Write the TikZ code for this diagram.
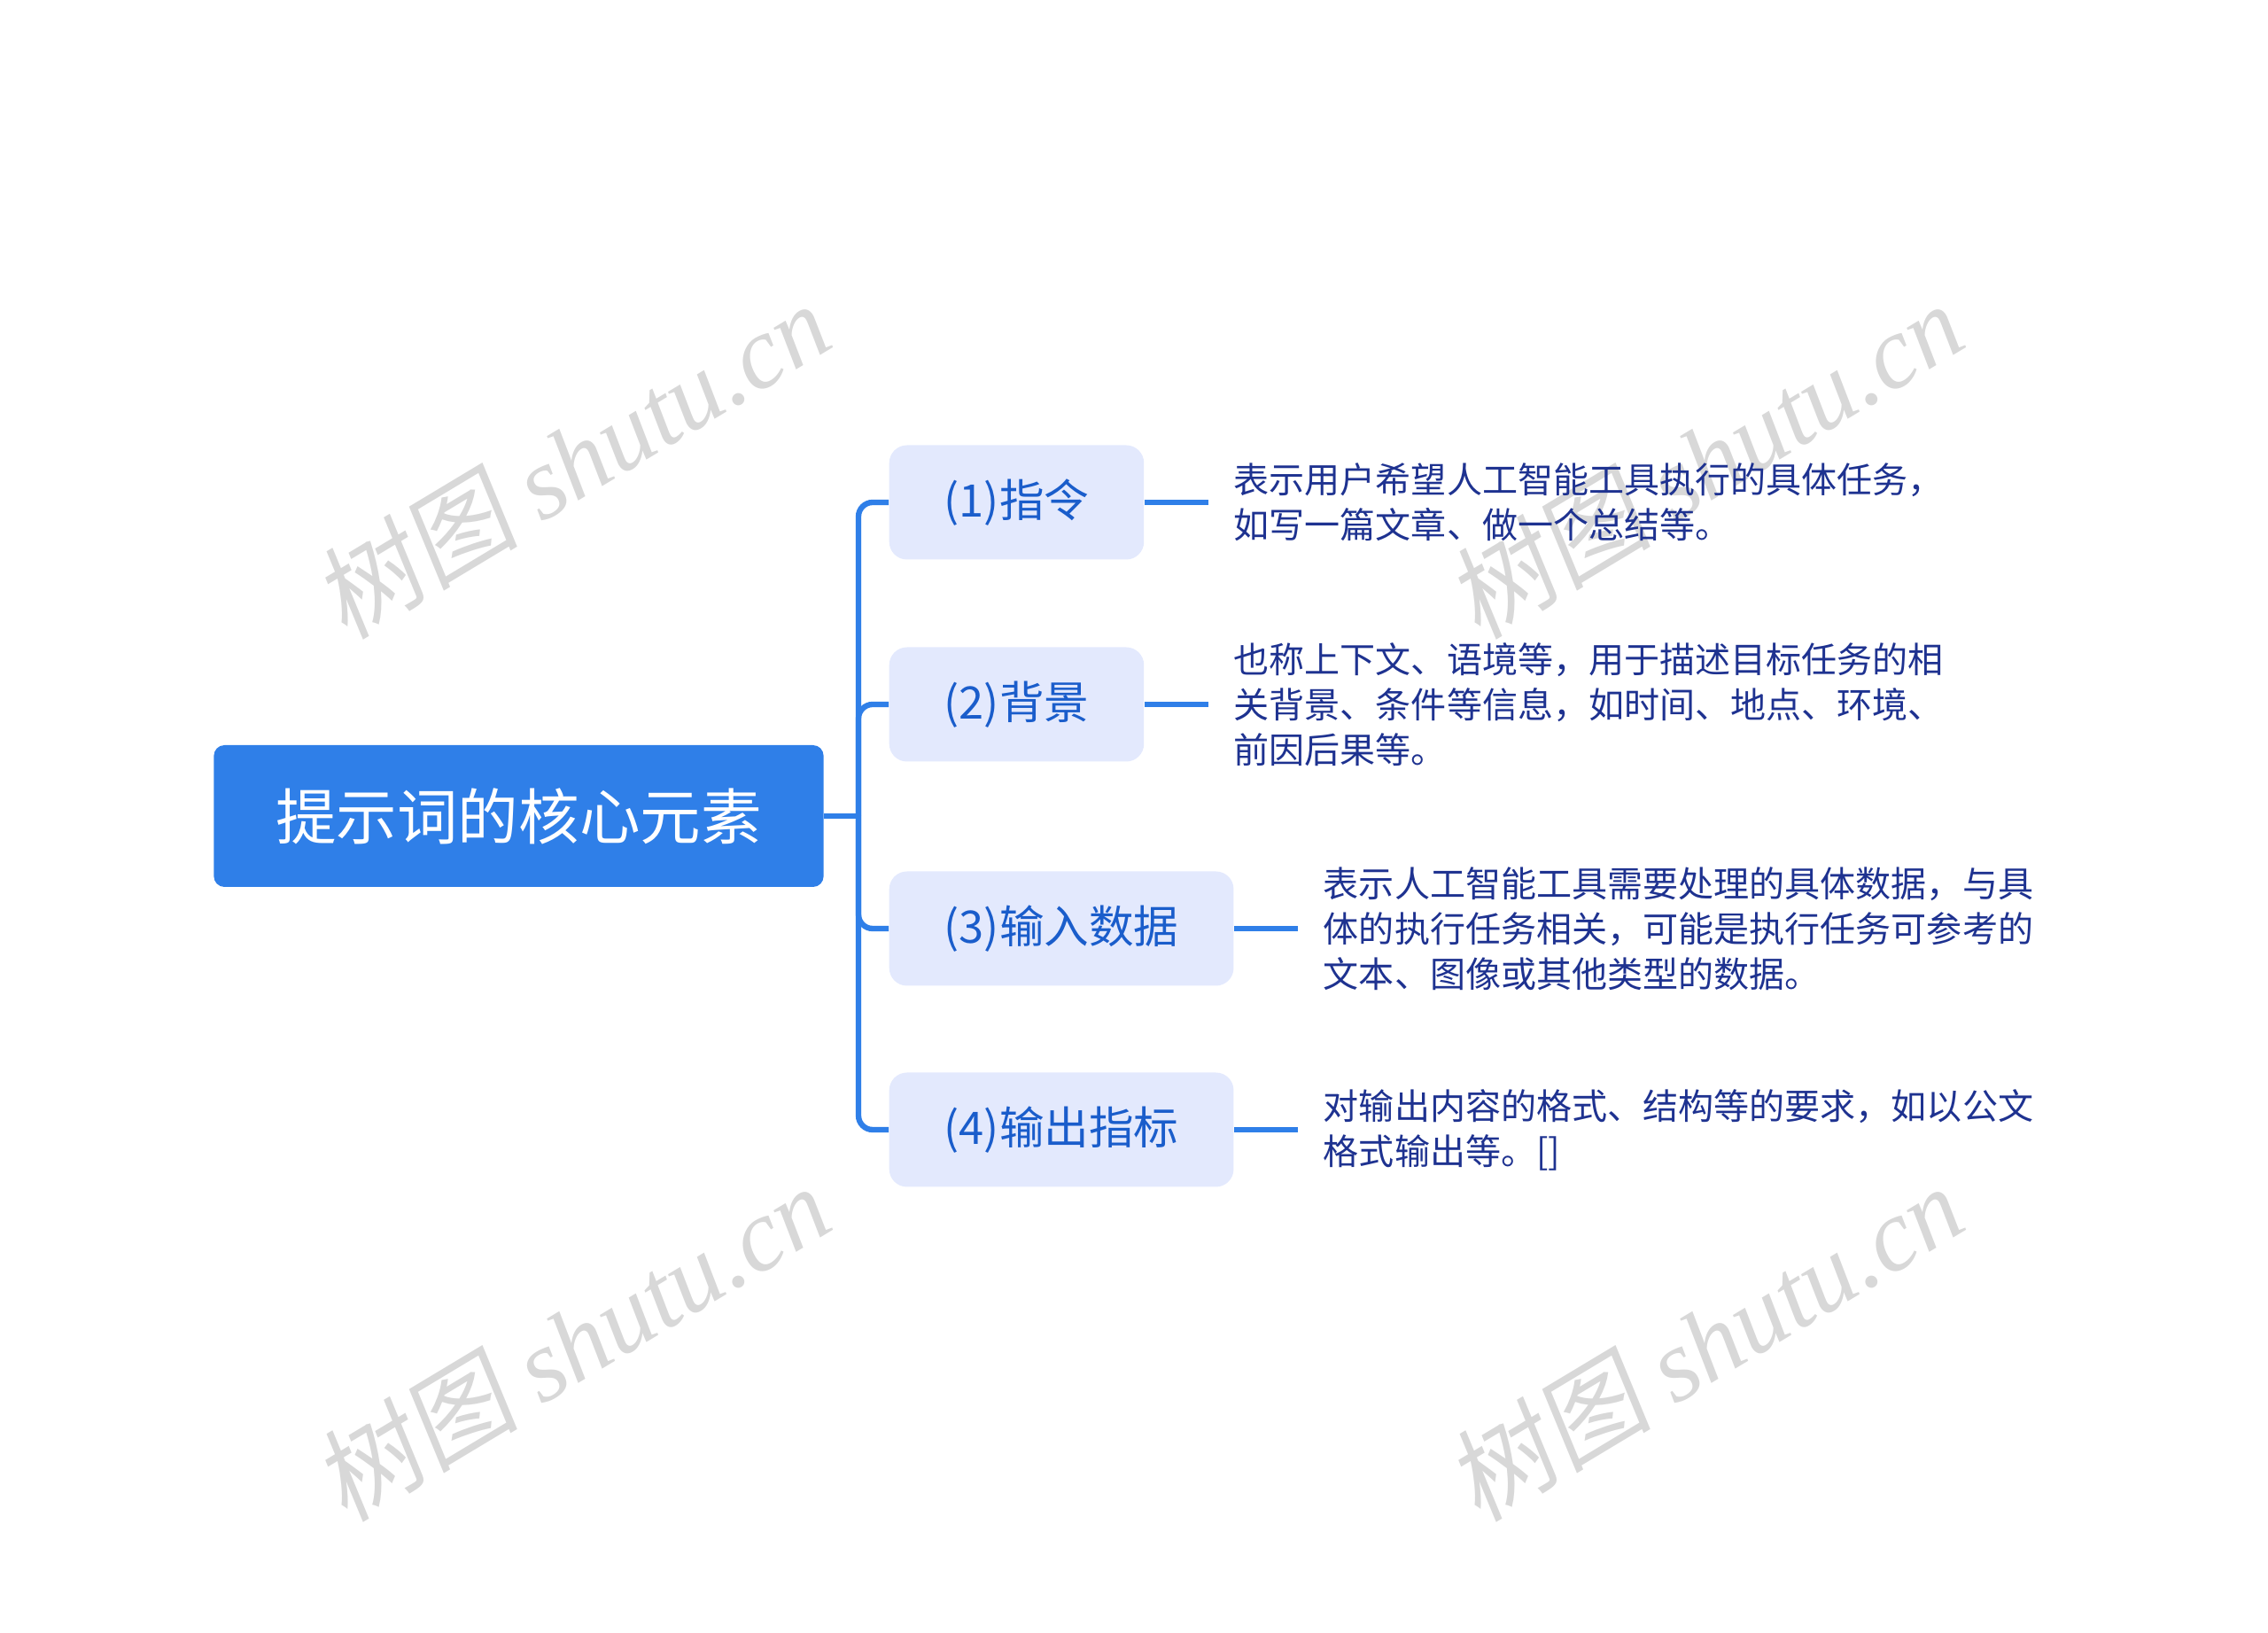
\documentclass[tikz,border=0pt]{standalone}
\usepackage{fontspec}
\setmainfont{Noto Sans CJK SC}
\newfontfamily\wmcjk[FakeSlant=0.15]{Noto Sans CJK SC}
\newfontfamily\wmlatin{Liberation Serif}
\usetikzlibrary{positioning}

\definecolor{rootblue}{HTML}{2F7FE8}
\definecolor{branchfill}{HTML}{E3E9FD}
\definecolor{branchtext}{HTML}{1A5DCB}
\definecolor{leaftext}{HTML}{1E3290}
\definecolor{wmgray}{HTML}{D8D8D8}

\tikzset{
  rootbox/.style={fill=rootblue, text=white, rounded corners=0.12cm,
    minimum height=1.6cm, inner xsep=0.7cm, font=\fontsize{19.5}{22}\selectfont},
  branch/.style={fill=branchfill, text=branchtext, rounded corners=0.2cm,
    minimum height=1.29cm, inner xsep=0.62cm, anchor=west,
    font=\fontsize{14.4}{17}\selectfont},
  leaf/.style={text=leaftext, align=left, anchor=west, inner xsep=0.28cm,
    font=\fontsize{11.4}{14.5}\selectfont},
  link/.style={draw=rootblue, line width=1.8pt},
  watermark/.style={text=wmgray, rotate=31, font=\fontsize{33}{38}\selectfont}
}

\begin{document}
\begin{tikzpicture}
\useasboundingbox (0, 0) rectangle (25.6, -18.43);

% watermarks
\node [watermark] (wm1) at (6.45, -5.19) {\wmcjk 树图 \wmlatin\itshape shutu.cn};
\node [watermark] (wm2) at (19.24, -5.19) {\wmcjk 树图 \wmlatin\itshape shutu.cn};
\node [watermark] (wm3) at (6.45, -15.15) {\wmcjk 树图 \wmlatin\itshape shutu.cn};
\node [watermark] (wm4) at (19.24, -15.15) {\wmcjk 树图 \wmlatin\itshape shutu.cn};

\node [rootbox] (root) at (5.855, -9.21) {提示词的核心元素};
\coordinate (hub) at (9.69, -9.21);

\node [branch] (b1) at (10.03, -5.67) {(1)指令};
\node [branch] (b2) at (10.03, -7.95) {(2)背景};
\node [branch] (b3) at (10.03, -10.48) {(3)输入数据};
\node [branch] (b4) at (10.03, -12.75) {(4)输出指标};

\node [leaf, right=0.72cm of b1] (l1) {表示用户希望人工智能工具执行的具体任务，\\如写一篇文章、做一个总结等。};
\node [leaf, right=0.72cm of b2] (l2) {也称上下文、语境等，用于描述目标任务的相\\关背景、条件等信息，如时间、地点、环境、\\前因后果等。};
\node [leaf, right=0.72cm of b3] (l3) {表示人工智能工具需要处理的具体数据，与具\\体的执行任务相关，可能是执行任务可参考的\\文本、图像或其他类型的数据。};
\node [leaf, right=0.72cm of b4] (l4) {对输出内容的格式、结构等的要求，如以公文\\格式输出等。[]};

% trunk
\draw [link] (root.east) -- (hub);
\draw [link, rounded corners=0.16cm] (hub) |- (b1.west);
\draw [link, rounded corners=0.16cm] (hub) |- (b2.west);
\draw [link, rounded corners=0.16cm] (hub) |- (b3.west);
\draw [link, rounded corners=0.16cm] (hub) |- (b4.west);

% leaves
\draw [link] (b1.east) -- (l1.west);
\draw [link] (b2.east) -- (l2.west);
\draw [link] (b3.east) -- (l3.west);
\draw [link] (b4.east) -- (l4.west);
\end{tikzpicture}
\end{document}
